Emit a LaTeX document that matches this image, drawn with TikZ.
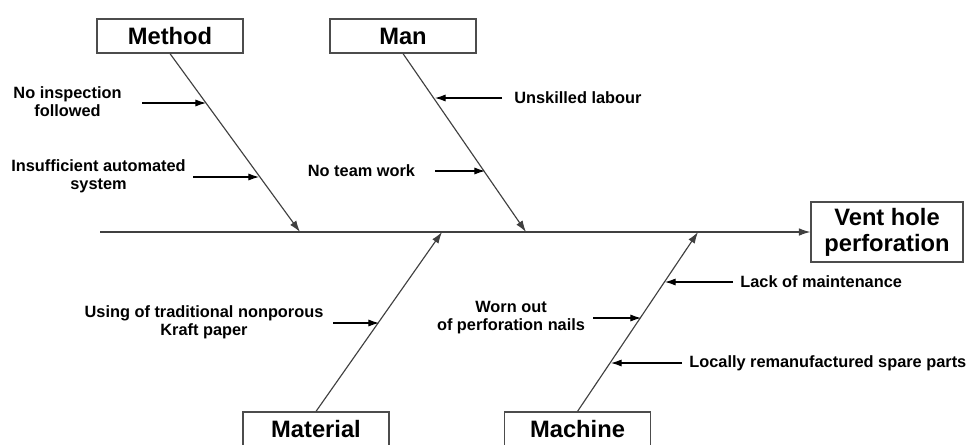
\documentclass[tikz,border=0pt]{standalone}
\usepackage{fontspec}
\setmainfont{Liberation Sans}
\usepackage{tikz}
\usetikzlibrary{arrows.meta}

\tikzset{
  catbox/.style={draw=black!70, line width=0.7pt, font=\fontsize{13.5}{15}\selectfont\bfseries,
    minimum width=2.92cm, minimum height=0.68cm, inner sep=0pt},
  lbl/.style={font=\fontsize{9.3}{10.2}\selectfont\bfseries, align=center, inner sep=0pt},
  bone/.style={draw=black!75, line width=0.65pt, -{Latex[length=6.5pt,width=4.3pt]}},
  cause/.style={draw=black, line width=0.6pt, -{Latex[length=6pt,width=4pt]}}
}

\begin{document}
\begin{tikzpicture}[x=0.02cm,y=-0.02cm]
\useasboundingbox (0,0) rectangle (969,444);
\node[catbox] (meth) at (170,36) {Method};
\node[catbox] (man) at (403,36) {Man};
\node[catbox] (mat) at (316,429) {Material};
\node[catbox] (mach) at (577.5,429) {Machine};
\node[catbox, minimum width=3.04cm, minimum height=1.2cm, align=center,
  font=\fontsize{13.5}{14.7}\selectfont\bfseries] (vent) at (887,232) {Vent hole\\perforation};
\coordinate (tail) at (100,232);
\coordinate (meth-e) at (300,232);
\coordinate (man-e) at (526,232);
\coordinate (mat-e) at (442,232);
\coordinate (mach-e) at (698,232);
\draw[bone] (tail) -- (vent.west);
\draw[bone] (meth.south) -- (meth-e);
\draw[bone] (man.south) -- (man-e);
\draw[bone] (mat.north) -- (mat-e);
\draw[bone] (mach.north) -- (mach-e);
\node[lbl] (ni) at (67.5,102) {No inspection\\followed};
\node[lbl] (ia) at (98.5,176) {Insufficient automated\\system};
\node[lbl] (ntw) at (361.5,171) {No team work};
\node[lbl, anchor=west] (ul) at (514,98) {Unskilled labour};
\node[lbl] (ut) at (204,322) {Using of traditional nonporous\\Kraft paper};
\node[lbl] (wo) at (511,318) {Worn out\\of perforation nails};
\node[lbl, anchor=west] (lm) at (740,282) {Lack of maintenance};
\node[lbl, anchor=west] (lr) at (689,363) {Locally remanufactured spare parts};
\coordinate (ni-s) at (142,103);
\coordinate (ni-e) at (206,103);
\coordinate (ia-s) at (193,177);
\coordinate (ia-e) at (259,177);
\coordinate (ntw-s) at (435,171);
\coordinate (ntw-e) at (485,171);
\coordinate (ul-s) at (502,98);
\coordinate (ul-e) at (435,98);
\coordinate (ut-s) at (333,323);
\coordinate (ut-e) at (379,323);
\coordinate (wo-s) at (593,318);
\coordinate (wo-e) at (641,318);
\coordinate (lm-s) at (733,282);
\coordinate (lm-e) at (665,282);
\coordinate (lr-s) at (682,363);
\coordinate (lr-e) at (611,363);
\draw[cause] (ni-s) -- (ni-e);
\draw[cause] (ia-s) -- (ia-e);
\draw[cause] (ntw-s) -- (ntw-e);
\draw[cause] (ul-s) -- (ul-e);
\draw[cause] (ut-s) -- (ut-e);
\draw[cause] (wo-s) -- (wo-e);
\draw[cause] (lm-s) -- (lm-e);
\draw[cause] (lr-s) -- (lr-e);
\end{tikzpicture}
\end{document}
